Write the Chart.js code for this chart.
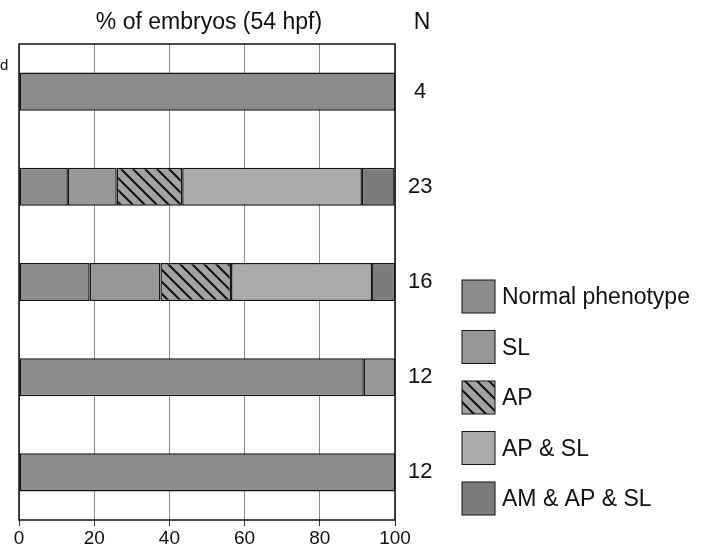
<!DOCTYPE html>
<html lang="en">
<head>
    <meta charset="UTF-8">
    <title>% of embryos (54 hpf)</title>
    <script src="https://cdn.jsdelivr.net/npm/chart.js"></script>
    <style>
        body {
            margin: 0;
            background: white;
        }
        #wrap {
            width: 709px;
            height: 549px;
        }
    </style>
</head>
<body>
    <div id="wrap"><canvas id="chart"></canvas></div>

    <script>
        // rows top to bottom, N per row
        const rows = ['r1', 'r2', 'r3', 'r4', 'r5'];
        const nValues = ['4', '23', '16', '12', '12'];
        const xTicks = [0, 20, 40, 60, 80, 100];

        // % of embryos per phenotype
        const normal = [100, 13.0, 18.8, 91.7, 100];
        const sl = [0, 13.0, 18.8, 8.3, 0];
        const ap = [0, 17.4, 18.8, 0, 0];
        const apSl = [0, 47.8, 37.5, 0, 0];
        const amApSl = [0, 8.7, 6.2, 0, 0];

        const FONT = '"Liberation Sans", Arial, sans-serif';

        function hatch(bg) {
            const c = document.createElement('canvas');
            c.width = 12;
            c.height = 12;
            const g = c.getContext('2d');
            g.fillStyle = bg;
            g.fillRect(0, 0, 12, 12);
            g.strokeStyle = '#111';
            g.lineWidth = 2;
            g.beginPath();
            g.moveTo(-3, -3); g.lineTo(15, 15);
            g.moveTo(-15, -3); g.lineTo(3, 15);
            g.moveTo(9, -3); g.lineTo(27, 15);
            g.stroke();
            return g.createPattern(c, 'repeat');
        }

        const series = [
            { label: 'Normal phenotype', data: normal, color: '#8c8c8c' },
            { label: 'SL', data: sl, color: '#979797' },
            { label: 'AP', data: ap, color: hatch('#a2a2a2') },
            { label: 'AP & SL', data: apSl, color: '#ababab' },
            { label: 'AM & AP & SL', data: amApSl, color: '#7c7c7c' }
        ];

        // title, N header, frame and legend drawn on top
        const decor = {
            id: 'decor',
            afterDatasetsDraw(chart) {
                const ctx = chart.ctx;
                const a = chart.chartArea;
                ctx.save();
                ctx.strokeStyle = '#111';
                ctx.lineWidth = 1.5;
                ctx.strokeRect(a.left, a.top, a.right - a.left, a.bottom - a.top);

                ctx.fillStyle = '#111';
                ctx.font = '23px ' + FONT;
                ctx.textAlign = 'center';
                ctx.textBaseline = 'middle';
                ctx.fillText('% of embryos (54 hpf)', 209, 23);
                ctx.fillText('N', 422, 23);

                ctx.font = '15px ' + FONT;
                ctx.textAlign = 'left';
                ctx.fillText('d', 0, 66);

                ctx.font = '23px ' + FONT;
                chart.data.datasets.forEach((ds, i) => {
                    const y = 280 + i * 50.5;
                    ctx.fillStyle = ds.backgroundColor;
                    ctx.fillRect(462, y, 33, 33);
                    ctx.lineWidth = 1;
                    ctx.strokeRect(462, y, 33, 33);
                    ctx.fillStyle = '#111';
                    ctx.fillText(ds.label, 502, y + 18);
                });
                ctx.restore();
            }
        };

        const ctx = document.getElementById('chart').getContext('2d');
        const chart = new Chart(ctx, {
            type: 'bar',
            data: {
                labels: rows,
                datasets: series.map(s => ({
                    label: s.label,
                    data: s.data,
                    backgroundColor: s.color,
                    borderColor: '#111',
                    borderWidth: 1.5,
                    borderSkipped: false,
                    barPercentage: 0.4,
                    categoryPercentage: 1,
                    yAxisID: 'y'
                }))
            },
            options: {
                indexAxis: 'y',
                responsive: true,
                maintainAspectRatio: false,
                animation: false,
                layout: {
                    padding: { left: 19, top: 44, right: 263, bottom: 0 }
                },
                plugins: {
                    legend: { display: false },
                    tooltip: { enabled: false }
                },
                scales: {
                    x: {
                        stacked: true,
                        min: 0,
                        max: 100,
                        afterBuildTicks(scale) {
                            scale.ticks = xTicks.map(v => ({ value: v }));
                        },
                        afterFit(scale) { scale.height = 29; },
                        grid: {
                            color: '#8a8a8a',
                            lineWidth: 1,
                            tickLength: 6,
                            tickColor: '#333'
                        },
                        border: { display: false },
                        ticks: {
                            color: '#111',
                            padding: 1,
                            maxRotation: 0,
                            font: { family: FONT, size: 19 }
                        }
                    },
                    y: {
                        stacked: true,
                        display: false
                    },
                    n: {
                        type: 'category',
                        labels: nValues,
                        position: 'right',
                        afterFit(scale) { scale.width = 51; },
                        grid: { display: false, drawTicks: false },
                        border: { display: false },
                        ticks: {
                            color: '#111',
                            crossAlign: 'center',
                            padding: 13,
                            font: { family: FONT, size: 22 }
                        }
                    }
                }
            },
            plugins: [decor]
        });
    </script>
</body>
</html>
